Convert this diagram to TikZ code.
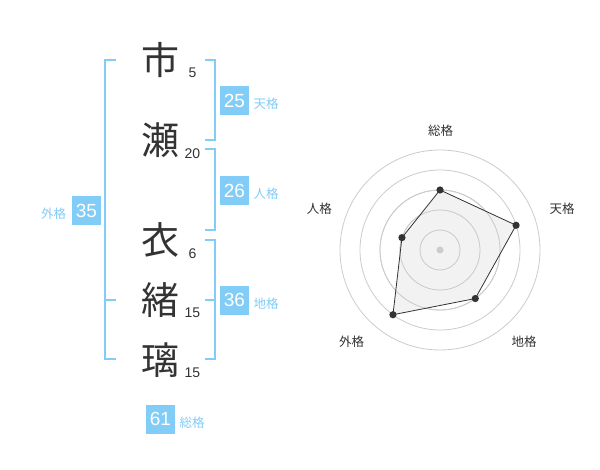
\documentclass[tikz,border=0pt]{standalone}
\usepackage{fontspec}
\setmainfont{Liberation Sans}
\newfontfamily\jp{Noto Sans CJK JP}
\definecolor{sky}{HTML}{82CDF8}
\definecolor{ink}{HTML}{333333}
\definecolor{ring}{HTML}{CCCCCC}
\definecolor{area}{HTML}{F0F0F0}
\begin{document}
\begin{tikzpicture}[x=1pt,y=-1pt,
  kanji/.style={font=\jp\fontsize{38}{38}\selectfont, text=ink, inner sep=0pt},
  strokes/.style={font=\fontsize{14}{14}\selectfont, text=ink, inner sep=0pt},
  valbox/.style={fill=sky, text=white, minimum size=29pt, inner sep=0pt, font=\fontsize{19}{19}\selectfont},
  kaku/.style={font=\jp\fontsize{12.5}{12.5}\selectfont, text=sky, inner sep=0pt},
  axislabel/.style={font=\jp\fontsize{12.5}{12.5}\selectfont, text=ink, inner sep=0pt},
  brk/.style={draw=sky, line width=2pt},
  ringline/.style={draw=ring, line width=0.8pt},
  dot/.style={fill=ink}]
\useasboundingbox[fill=white] (0,0) rectangle (600,470);
% characters
\node[kanji] (k1) at (160,60) {市};
\node[kanji] (k2) at (160,140) {瀬};
\node[kanji] (k3) at (160,240) {衣};
\node[kanji] (k4) at (160,300) {緒};
\node[kanji] (k5) at (160,360) {璃};
\node[strokes] (s1) at (192.5,72.7) {5};
\node[strokes] (s2) at (192.5,153.3) {20};
\node[strokes] (s3) at (192.5,253.3) {6};
\node[strokes] (s4) at (192.5,312.7) {15};
\node[strokes] (s5) at (192.5,372.7) {15};
% brackets
\draw[brk] (116,60) -- (105,60) -- (105,359.5) -- (116,359.5);
\draw[brk] (105,300) -- (116,300);
\draw[brk] (205,60) -- (214.5,60) -- (214.5,140) -- (205,140);
\draw[brk] (205,149.5) -- (214.5,149.5) -- (214.5,230) -- (205,230);
\draw[brk] (205,240) -- (214.5,240) -- (214.5,359.5) -- (205,359.5);
\draw[brk] (205,300) -- (214.5,300);
% values
\node[valbox] (b1) at (234.5,100.5) {25};
\node[kaku] (l1) at (266,104) {天格};
\node[valbox] (b2) at (234.5,190.5) {26};
\node[kaku] (l2) at (266,194) {人格};
\node[valbox] (b3) at (234.5,300.3) {36};
\node[kaku] (l3) at (266,304) {地格};
\node[valbox] (b4) at (86.5,210.5) {35};
\node[kaku] (l4) at (53.5,214) {外格};
\node[valbox] (b5) at (160.5,419.3) {61};
\node[kaku] (l5) at (192,423) {総格};
% radar
\begin{scope}[shift={(440,250)}]
  \foreach \r in {20,40,60,80,100} \draw[ringline] (0,0) circle (\r);
  \coordinate (v1) at (-90:60);
  \coordinate (v2) at (-18:80);
  \coordinate (v3) at (54:60);
  \coordinate (v4) at (126:80);
  \coordinate (v5) at (-162:40);
  \fill[area, opacity=0.85] (v1) -- (v2) -- (v3) -- (v4) -- (v5) -- cycle;
  \foreach \r in {20,40,60} \draw[ringline] (0,0) circle (\r);
  \draw[ink, line width=0.8pt] (v1) -- (v2) -- (v3) -- (v4) -- (v5) -- cycle;
  \fill[ring] (0,0) circle (3.5);
  \foreach \v in {v1,v2,v3,v4,v5} \fill[dot] (\v) circle (3.6);
\end{scope}
\node[axislabel] (a1) at (440.7,130.7) {総格};
\node[axislabel] (a2) at (562,209) {天格};
\node[axislabel] (a3) at (524,342) {地格};
\node[axislabel] (a4) at (351.7,342) {外格};
\node[axislabel] (a5) at (319.3,209) {人格};
\end{tikzpicture}
\end{document}
